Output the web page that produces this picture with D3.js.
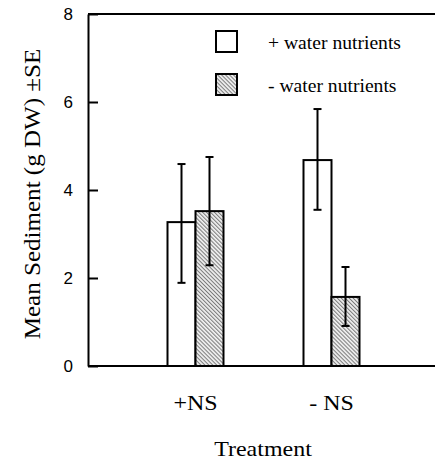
<!DOCTYPE html>
<html>
<head>
<meta charset="utf-8">
<script src="https://cdn.jsdelivr.net/npm/d3@7"></script>
<style>
  body { margin: 0; background: #fff; }
  .serif { font-family: "Liberation Serif", "Times New Roman", Times, serif; }
  .sans { font-family: "Liberation Sans", Arial, Helvetica, sans-serif; }
</style>
</head>
<body>
<svg id="chart" width="435" height="460"></svg>
<script>
const groups = ["+NS", "- NS"];
const series = ["+ water nutrients", "- water nutrients"];
const means = [[3.27, 3.52], [4.68, 1.57]];
const errLow = [[1.89, 2.29], [3.55, 0.91]];
const errHigh = [[4.59, 4.75], [5.84, 2.25]];
const yTicks = [0, 2, 4, 6, 8];

const svg = d3.select("#chart");
const mLeft = 88, mRight = 435, mTop = 14, mBottom = 366;
const stretch = 1.09;

const defs = svg.append("defs");
const pat = defs.append("pattern")
    .attr("id", "hatch")
    .attr("patternUnits", "userSpaceOnUse")
    .attr("width", 2.8).attr("height", 2.8)
    .attr("patternTransform", "rotate(-45)");
pat.append("rect").attr("width", 2.8).attr("height", 2.8).attr("fill", "#eeeeee");
pat.append("rect").attr("width", 1).attr("height", 2.8).attr("fill", "#7a7a7a");

const y = d3.scaleLinear().domain([0, 8]).range([mBottom, mTop]);
const x0 = d3.scalePoint().domain(groups).range([195.5, 331.5]);
const x1 = d3.scaleBand().domain(series).range([-28, 28]);
const fills = ["#fff", "url(#hatch)"];

svg.append("line").attr("x1", mLeft).attr("x2", mRight).attr("y1", mTop).attr("y2", mTop)
    .attr("stroke", "#000").attr("stroke-width", 2);

const yAxis = svg.append("g")
    .attr("transform", "translate(" + mLeft + ",0)")
    .call(d3.axisLeft(y).tickValues(yTicks).tickSizeInner(-10).tickSizeOuter(0).tickPadding(15));
yAxis.attr("font-family", null).attr("font-size", null);
yAxis.select(".domain").attr("stroke-width", 2);
yAxis.selectAll(".tick line").attr("stroke-width", 2);
yAxis.selectAll("text")
    .attr("class", "sans")
    .style("font-size", "17px")
    .attr("fill", "#000");

const g = svg.selectAll(".grp")
    .data(groups)
    .enter().append("g")
    .attr("transform", d => "translate(" + x0(d) + ",0)");

g.each(function(grp, gi) {
  const sel = d3.select(this);
  series.forEach((s, si) => {
    const bx = x1(s);
    const bw = x1.bandwidth();
    sel.append("rect")
      .attr("x", bx).attr("width", bw)
      .attr("y", y(means[gi][si])).attr("height", y(0) - y(means[gi][si]))
      .attr("fill", fills[si])
      .attr("stroke", "#000").attr("stroke-width", 2);
    const cx = bx + bw / 2;
    sel.append("line")
      .attr("x1", cx).attr("x2", cx)
      .attr("y1", y(errHigh[gi][si])).attr("y2", y(errLow[gi][si]))
      .attr("stroke", "#000").attr("stroke-width", 2);
    [errHigh[gi][si], errLow[gi][si]].forEach(v => {
      sel.append("line")
        .attr("x1", cx - 4).attr("x2", cx + 4)
        .attr("y1", y(v)).attr("y2", y(v))
        .attr("stroke", "#000").attr("stroke-width", 2);
    });
  });
});

svg.append("line").attr("x1", mLeft).attr("x2", mRight).attr("y1", mBottom).attr("y2", mBottom)
    .attr("stroke", "#000").attr("stroke-width", 2);

svg.selectAll(".cat")
    .data(groups)
    .enter().append("text")
    .attr("class", "serif")
    .attr("transform", d => "translate(" + x0(d) + ",410) scale(" + stretch + ",1)")
    .attr("text-anchor", "middle")
    .style("font-size", "22px")
    .text(d => d);

svg.append("text")
    .attr("class", "serif")
    .attr("transform", "translate(263,456) scale(" + stretch + ",1)")
    .attr("text-anchor", "middle")
    .style("font-size", "22px")
    .text("Treatment");

svg.append("text")
    .attr("class", "serif")
    .attr("transform", "translate(40,194) rotate(-90) scale(" + stretch + ",1)")
    .attr("text-anchor", "middle")
    .style("font-size", "23px")
    .text("Mean Sediment (g DW) \u00b1SE");

const leg = svg.selectAll(".leg")
    .data(series)
    .enter().append("g")
    .attr("transform", (d, i) => "translate(216," + (31 + i * 43) + ")");
leg.append("rect")
    .attr("width", 21).attr("height", 21)
    .attr("fill", (d, i) => fills[i])
    .attr("stroke", "#000").attr("stroke-width", 2);
leg.append("text")
    .attr("class", "serif")
    .attr("transform", "translate(52,18) scale(" + stretch + ",1)")
    .style("font-size", "18px")
    .text(d => d);
</script>
</body>
</html>
